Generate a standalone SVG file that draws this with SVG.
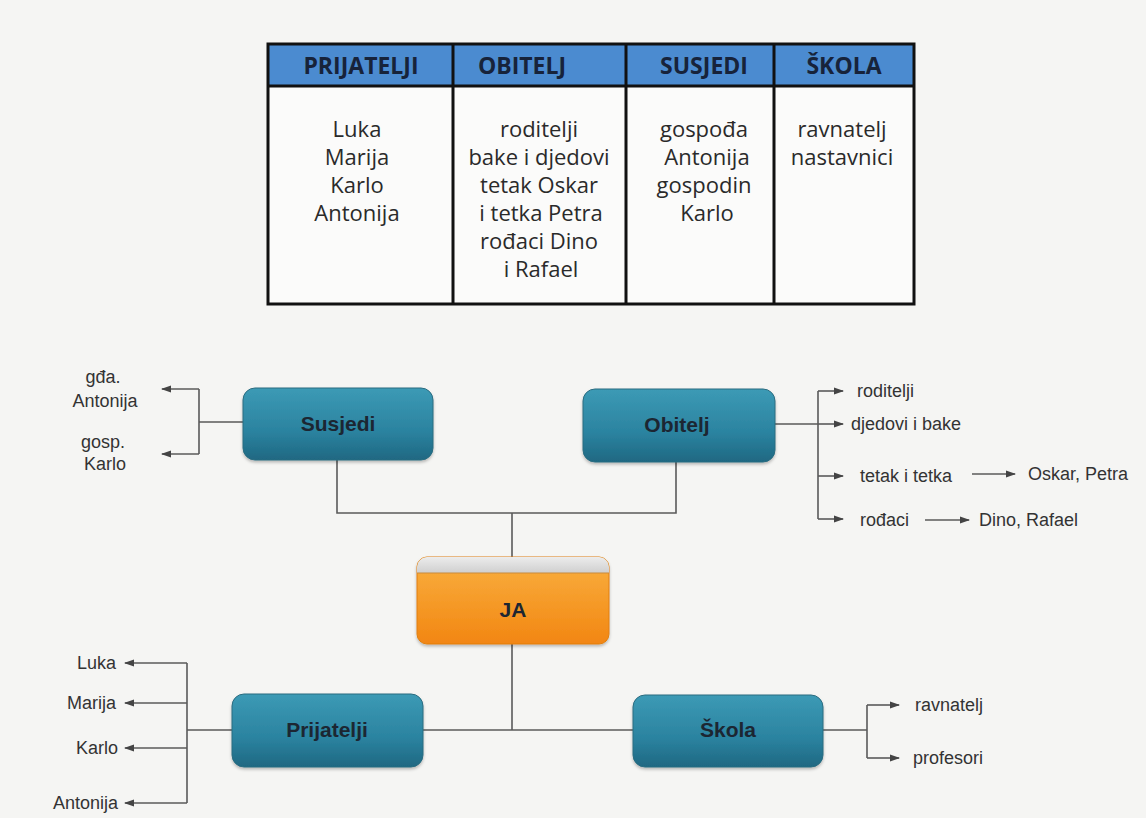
<svg xmlns="http://www.w3.org/2000/svg" width="1146" height="818" viewBox="0 0 1146 818">
<style>
.th{font-family:"Open Sans","Noto Sans",sans-serif;font-weight:700;font-size:23px;fill:#17233a;text-anchor:middle}
.td{font-family:"Open Sans","Noto Sans",sans-serif;font-size:22px;fill:#2a2a2a;text-anchor:middle}
.bl{font-family:"Liberation Sans",Arial,sans-serif;font-weight:700;font-size:21px;fill:#1c2632;text-anchor:middle}
.lb{font-family:"Liberation Sans",Arial,sans-serif;font-size:18px;fill:#333}
.ln{fill:none;stroke:#5a5a5a;stroke-width:1.6}
.ar{fill:none;stroke:#5a5a5a;stroke-width:1.6;marker-end:url(#ah)}
.tb{fill:none;stroke:#111;stroke-width:3}
.box{fill:url(#teal);stroke:#2b6c80;stroke-width:1}
</style>
<defs>
<marker id="ah" markerWidth="10" markerHeight="8" refX="9" refY="4" orient="auto" markerUnits="userSpaceOnUse">
<path d="M0,0.5 L10,4 L0,7.5 Z" fill="#444"/>
</marker>
<linearGradient id="teal" x1="0" y1="0" x2="0" y2="1">
<stop offset="0" stop-color="#3c9ab5"/>
<stop offset="0.6" stop-color="#2b83a0"/>
<stop offset="1" stop-color="#1f6882"/>
</linearGradient>
<linearGradient id="orange" x1="0" y1="0" x2="0" y2="1">
<stop offset="0" stop-color="#f9b040"/>
<stop offset="1" stop-color="#f28612"/>
</linearGradient>
<linearGradient id="grayband" x1="0" y1="0" x2="0" y2="1">
<stop offset="0" stop-color="#ececec"/>
<stop offset="1" stop-color="#cfcfcf"/>
</linearGradient>
<filter id="sh" x="-10%" y="-10%" width="120%" height="130%">
<feDropShadow dx="0" dy="2" stdDeviation="1.5" flood-color="#000" flood-opacity="0.25"/>
</filter>
</defs>
<rect x="0" y="0" width="1146" height="818" fill="#f5f5f3"/>

<g id="table">
<rect x="268" y="44" width="646" height="42" fill="#4b8bd0"/>
<rect x="268" y="86" width="646" height="218" fill="#fbfbfa"/>
<rect class="tb" x="268" y="44" width="646" height="260"/>
<line class="tb" x1="268" y1="86" x2="914" y2="86" stroke-width="4"/>
<line class="tb" x1="453" y1="44" x2="453" y2="304"/>
<line class="tb" x1="626" y1="44" x2="626" y2="304"/>
<line class="tb" x1="774" y1="44" x2="774" y2="304"/>
<text class="th" x="361" y="74">PRIJATELJI</text>
<text class="th" x="522" y="74">OBITELJ</text>
<text class="th" x="704" y="74">SUSJEDI</text>
<text class="th" x="844" y="74">ŠKOLA</text>
<text class="td" x="357" y="137">Luka</text>
<text class="td" x="357" y="165">Marija</text>
<text class="td" x="357" y="193">Karlo</text>
<text class="td" x="357" y="221">Antonija</text>
<text class="td" x="539" y="137">roditelji</text>
<text class="td" x="539" y="165">bake i djedovi</text>
<text class="td" x="539" y="193">tetak Oskar</text>
<text class="td" x="541" y="221">i tetka Petra</text>
<text class="td" x="539" y="249">rođaci Dino</text>
<text class="td" x="541" y="277">i Rafael</text>
<text class="td" x="704" y="137">gospođa</text>
<text class="td" x="707" y="165">Antonija</text>
<text class="td" x="704" y="193">gospodin</text>
<text class="td" x="707" y="221">Karlo</text>
<text class="td" x="842" y="137">ravnatelj</text>
<text class="td" x="842" y="165">nastavnici</text>
</g>

<g id="connectors">
<path class="ln" d="M337,460 V513 H676 V462"/>
<path class="ln" d="M512,513 V557"/>
<path class="ln" d="M512,644 V730"/>
<path class="ln" d="M423,730 H633"/>
<path class="ln" d="M243,422 H199 M199,389 V454"/>
<path class="ar" d="M199,389 H162"/>
<path class="ar" d="M199,454 H162"/>
<path class="ln" d="M775,424 H818 M818,391 V519"/>
<path class="ar" d="M818,391 H843"/>
<path class="ar" d="M818,424 H843"/>
<path class="ar" d="M818,476 H843"/>
<path class="ar" d="M818,519 H843"/>
<path class="ar" d="M972,474 H1015"/>
<path class="ar" d="M925,520 H969"/>
<path class="ln" d="M232,730 H187 M187,663 V803"/>
<path class="ar" d="M187,663 H125"/>
<path class="ar" d="M187,703 H125"/>
<path class="ar" d="M187,748 H125"/>
<path class="ar" d="M187,803 H125"/>
<path class="ln" d="M823,730 H867 M867,705 V758"/>
<path class="ar" d="M867,705 H899"/>
<path class="ar" d="M867,758 H899"/>
</g>

<g id="node-susjedi">
<rect class="box" x="243" y="388" width="190" height="72" rx="12" filter="url(#sh)"/>
<text class="bl" x="338" y="431">Susjedi</text>
</g>
<g id="node-obitelj">
<rect class="box" x="583" y="389" width="192" height="73" rx="12" filter="url(#sh)"/>
<text class="bl" x="677" y="432">Obitelj</text>
</g>
<g id="node-ja">
<rect x="417" y="557" width="192" height="87" rx="10" fill="url(#orange)" stroke="#e07f10" stroke-width="1" filter="url(#sh)"/>
<path d="M427,557 H599 A10,10 0 0 1 609,567 V573 H417 V567 A10,10 0 0 1 427,557 Z" fill="url(#grayband)"/>
<line x1="417" y1="573" x2="609" y2="573" stroke="#c98a3a" stroke-width="1"/>
<text class="bl" x="513" y="617" fill="#2a1a10">JA</text>
</g>
<g id="node-prijatelji">
<rect class="box" x="232" y="694" width="191" height="73" rx="12" filter="url(#sh)"/>
<text class="bl" x="327" y="737">Prijatelji</text>
</g>
<g id="node-skola">
<rect class="box" x="633" y="695" width="190" height="72" rx="12" filter="url(#sh)"/>
<text class="bl" x="728" y="737">Škola</text>
</g>

<g id="labels">
<text class="lb" x="103" y="383" text-anchor="middle">gđa.</text>
<text class="lb" x="105" y="407" text-anchor="middle">Antonija</text>
<text class="lb" x="103" y="448" text-anchor="middle">gosp.</text>
<text class="lb" x="105" y="470" text-anchor="middle">Karlo</text>
<text class="lb" x="857" y="397">roditelji</text>
<text class="lb" x="851" y="430">djedovi i bake</text>
<text class="lb" x="860" y="482">tetak i tetka</text>
<text class="lb" x="1028" y="480">Oskar, Petra</text>
<text class="lb" x="860" y="526">rođaci</text>
<text class="lb" x="979" y="526">Dino, Rafael</text>
<text class="lb" x="116" y="669" text-anchor="end">Luka</text>
<text class="lb" x="116" y="709" text-anchor="end">Marija</text>
<text class="lb" x="118" y="754" text-anchor="end">Karlo</text>
<text class="lb" x="118" y="809" text-anchor="end">Antonija</text>
<text class="lb" x="915" y="711">ravnatelj</text>
<text class="lb" x="913" y="764">profesori</text>
</g>
</svg>
